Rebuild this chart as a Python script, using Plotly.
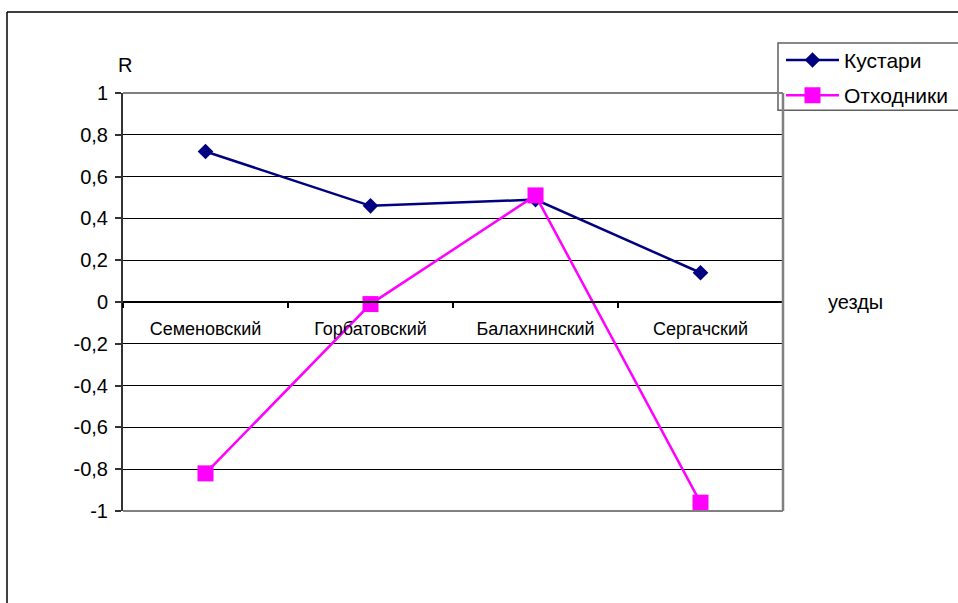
import plotly.graph_objects as go

categories = ["Семеновский", "Горбатовский", "Балахнинский", "Сергачский"]
kustari = [0.72, 0.46, 0.49, 0.14]
otkhodniki = [-0.82, -0.01, 0.51, -0.96]
y_tick_vals = [1, 0.8, 0.6, 0.4, 0.2, 0, -0.2, -0.4, -0.6, -0.8, -1]
y_tick_text = ["1", "0,8", "0,6", "0,4", "0,2", "0", "-0,2", "-0,4", "-0,6", "-0,8", "-1"]

W, H = 958, 603
# plot-area edges in pixels
L, R, T, B = 123, 783, 92.7, 510.7


def px(x):
    return (x - L) / (R - L)


def py(y):
    return (B - y) / (B - T)


FONT = "Liberation Sans, Arial, sans-serif"

fig = go.Figure()
fig.add_trace(go.Scatter(
    x=categories, y=kustari, name="Кустари", mode="lines+markers",
    legendgroup="a",
    line=dict(color="#000080", width=2.5),
    marker=dict(symbol="diamond", size=12, color="#000080"),
))
fig.add_trace(go.Scatter(
    x=categories, y=otkhodniki, name="Отходники", mode="lines+markers",
    legendgroup="b",
    line=dict(color="#FF00FF", width=2.5),
    marker=dict(symbol="square", size=16, color="#FF00FF"),
))

shapes = [
    # outer frame
    dict(type="line", xref="paper", yref="paper", x0=px(7), x1=px(7), y0=py(11.7), y1=py(640),
         line=dict(color="black", width=1.5)),
    dict(type="line", xref="paper", yref="paper", x0=px(7), x1=px(1000), y0=py(11.7), y1=py(11.7),
         line=dict(color="black", width=1.5)),
    # plot area border
    dict(type="line", xref="paper", yref="paper", x0=0, x1=1, y0=1, y1=1,
         line=dict(color="#808080", width=2)),
    dict(type="line", xref="paper", yref="paper", x0=0, x1=1, y0=0, y1=0,
         line=dict(color="#808080", width=2)),
    dict(type="line", xref="paper", yref="paper", x0=1, x1=1, y0=0, y1=1,
         line=dict(color="#808080", width=2.5)),
    # legend box
    dict(type="rect", xref="paper", yref="paper", x0=px(778), x1=px(1000), y0=py(110), y1=py(42.7),
         line=dict(color="#606060", width=1.5), fillcolor="white", layer="below"),
]

fig.update_layout(
    width=W, height=H,
    margin=dict(l=L, r=W - R, t=T, b=H - B, autoexpand=False),
    paper_bgcolor="white", plot_bgcolor="rgba(0,0,0,0)",
    font=dict(family=FONT, color="black", size=18),
    showlegend=True,
    legend=dict(
        x=px(781), y=py(39.5), xanchor="left", yanchor="top",
        bgcolor="rgba(0,0,0,0)", borderwidth=0,
        font=dict(family=FONT, size=21, color="black"),
        itemwidth=53, tracegroupgap=5,
    ),
    shapes=shapes,
    annotations=[
        dict(text="R", xref="paper", yref="paper", x=px(125), y=py(65),
             xanchor="center", yanchor="middle",
             showarrow=False, font=dict(family=FONT, size=20, color="black")),
        dict(text="уезды", xref="paper", yref="paper", x=px(855), y=py(302),
             xanchor="center", yanchor="middle",
             showarrow=False, font=dict(family=FONT, size=20, color="black")),
    ],
)

fig.update_xaxes(
    type="category", range=[-0.5, 3.5], anchor="free", position=0.5,
    showline=True, linecolor="black", linewidth=1.5,
    ticks="outside", tickson="boundaries", ticklen=5, tickcolor="black", tickwidth=1.5,
    ticklabelstandoff=11,
    showgrid=False, zeroline=False,
    tickfont=dict(family=FONT, size=18, color="black"),
)
fig.update_yaxes(
    range=[-1, 1], tickvals=y_tick_vals, ticktext=y_tick_text,
    showgrid=True, gridcolor="black", gridwidth=1, zeroline=False,
    showline=True, linecolor="#333333", linewidth=2,
    ticks="outside", ticklen=6, tickcolor="#333333", tickwidth=1.5,
    ticklabelstandoff=3,
    tickfont=dict(family=FONT, size=20, color="black"),
)

fig.write_html(
    "out.html",
    config={"displayModeBar": False},
    post_script="document.body.style.margin='0';document.body.style.overflow='hidden';",
)
